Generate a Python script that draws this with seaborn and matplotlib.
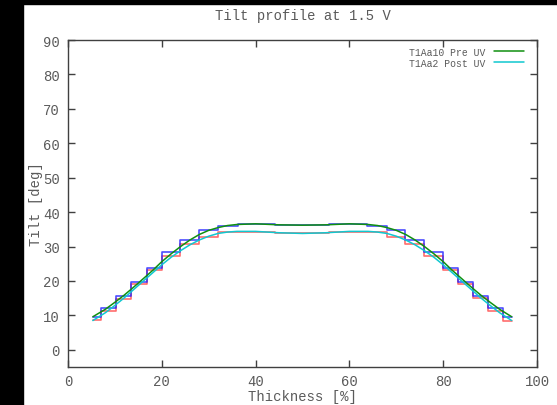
import numpy as np
import pandas as pd
import matplotlib
matplotlib.use('Agg')
import matplotlib.pyplot as plt
import seaborn as sns
from matplotlib.patches import Rectangle

# step profiles (layer edges and tilt of each layer)
step_x = [5.3, 7.02, 10.3, 13.47, 16.74, 19.94, 23.83, 27.87, 31.98, 36.23, 40.2, 44.2, 48.0,
          51.8, 55.6, 59.6, 63.7, 67.94, 71.9, 75.96, 80.0, 83.26, 86.45, 89.64, 92.77, 94.6]
pre_steps = [9.6, 12.1, 15.6, 19.8, 23.9, 28.3, 32.0, 34.7, 36.0, 36.5, 36.4, 36.2, 36.2,
             36.3, 36.5, 36.5, 36.0, 34.7, 32.0, 28.3, 23.9, 19.8, 15.6, 12.1, 9.6]
post_steps = [8.6, 11.3, 14.9, 19.1, 23.3, 27.3, 30.7, 32.9, 34.3, 34.3, 34.1, 33.8, 33.8,
              33.9, 34.1, 34.3, 34.3, 32.9, 30.7, 27.3, 23.3, 19.1, 15.0, 11.3, 8.5]

# smooth profiles
smooth_x = [5.3, 8, 10, 12, 14, 16, 18, 20, 22, 24, 26, 28, 30, 32, 34, 36, 40, 45, 50,
            55, 60, 64, 66, 68, 70, 72, 74, 76, 78, 80, 82, 84, 86, 88, 90, 92, 94.6]
pre_uv = [9.6, 11.8, 13.8, 15.9, 18.2, 20.6, 23.0, 25.6, 27.9, 30.0, 31.9, 33.5, 34.7, 35.5,
          36.1, 36.4, 36.6, 36.3, 36.2, 36.3, 36.6, 36.4, 36.1, 35.5, 34.7, 33.5, 31.9, 30.0,
          27.9, 25.6, 23.0, 20.6, 18.2, 15.9, 13.8, 11.8, 9.6]
post_uv = [8.5, 10.8, 12.9, 15.1, 17.5, 19.9, 22.3, 24.7, 26.9, 28.8, 30.5, 31.9, 33.0, 33.8,
           34.2, 34.4, 34.4, 34.0, 33.8, 34.0, 34.4, 34.4, 34.2, 33.8, 33.0, 31.9, 30.5, 28.8,
           26.9, 24.7, 22.3, 19.9, 17.5, 15.1, 12.9, 10.8, 8.5]

sns.set_style('ticks')
plt.rcParams['font.family'] = ['Liberation Mono', 'DejaVu Sans Mono']
txt = '#5a5a5a'

fig = plt.figure(figsize=(5.57, 4.06), dpi=100)
ax = fig.add_axes([0.1221, 0.0936, 0.842, 0.8054])

# black border strips from the original screenshot
fig.patches.append(Rectangle((0, 0), 23 / 557, 1, transform=fig.transFigure, color='black', zorder=-5))
fig.patches.append(Rectangle((0, 1 - 5 / 406), 1, 5 / 406, transform=fig.transFigure, color='black', zorder=-5))

steps = pd.DataFrame({'x': step_x,
                      'pre': pre_steps + pre_steps[-1:],
                      'post': post_steps + post_steps[-1:]})
sns.lineplot(data=steps, x='x', y='post', ax=ax, color='#ff2020', alpha=0.65, lw=1.2,
             drawstyle='steps-post', estimator=None)
sns.lineplot(data=steps, x='x', y='pre', ax=ax, color='#2020ff', alpha=0.8, lw=1.2,
             drawstyle='steps-post', estimator=None)

smooth = pd.DataFrame({'x': smooth_x, 'pre': pre_uv, 'post': post_uv})
sns.lineplot(data=smooth, x='x', y='pre', ax=ax, color='#109010', lw=1.1,
             label='T1Aa10 Pre UV', estimator=None)
sns.lineplot(data=smooth, x='x', y='post', ax=ax, color='#10c8d0', lw=1.1,
             label='T1Aa2 Post UV', estimator=None)

ax.set_xlim(0, 100)
ax.set_ylim(-5, 90)
ax.set_xticks(range(0, 101, 20))
ax.set_yticks(range(0, 91, 10))
ax.tick_params(direction='in', length=5, width=1, color='#404040', labelcolor=txt,
               labelsize=10, top=True, right=True)
ax.tick_params(axis='x', pad=5)
ax.tick_params(axis='y', pad=6)
for s in ax.spines.values():
    s.set_color('#404040')
    s.set_linewidth(1)
    s.set_visible(True)

ax.set_title('Tilt profile at 1.5 V', fontsize=10, color=txt, pad=15)
ax.set_xlabel('Thickness [%]', fontsize=10, color=txt)
ax.set_ylabel('Tilt [deg]', fontsize=10, color=txt)
ax.xaxis.set_label_coords(0.5, -0.068)
ax.yaxis.set_label_coords(-0.054, 0.5)

leg = ax.legend(loc='upper right', bbox_to_anchor=(0.987, 1.0), frameon=False,
                markerfirst=False, fontsize=7, handlelength=3.1, handletextpad=0.9,
                borderaxespad=0.3, labelspacing=0.1)
for t in leg.get_texts():
    t.set_color(txt)

fig.savefig('out.png', dpi=100)
